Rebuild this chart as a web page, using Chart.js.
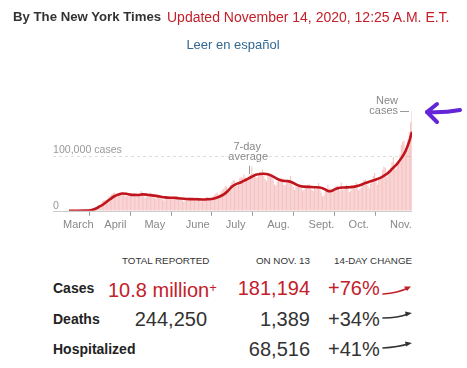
<!DOCTYPE html>
<html>
<head>
<meta charset="utf-8">
<script src="https://cdn.jsdelivr.net/npm/chart.js@4"></script>
<style>
  body { margin: 0; background: #fff; font-family: "Liberation Sans", Arial, sans-serif; }
  #page { position: relative; width: 467px; height: 368px; overflow: hidden; }
  .t { position: absolute; white-space: nowrap; line-height: 20px; }
  #chart { position: absolute; left: 0; top: 0; }
  .lbl { font-weight: bold; font-size: 14px; color: #222; left: 53px; }
  .num { font-size: 20px; color: #333; line-height: 24px; }
  .red { color: #c3202a; }
  .hd { font-size: 9.8px; color: #333; top: 251px; }
</style>
</head>
<body>
<div id="page">
  <canvas id="chart" width="467" height="245"></canvas>

  <div class="t" style="left:13px;top:7px;font-weight:bold;font-size:13.2px;color:#333">By The New York Times</div>
  <div class="t red" style="left:167px;top:7px;font-size:14px">Updated November 14, 2020, 12:25 A.M. E.T.</div>
  <div class="t" style="left:0;width:466px;text-align:center;top:35px;font-size:13px;color:#326891">Leer en español</div>

  <div class="t hd" style="left:122px">TOTAL REPORTED</div>
  <div class="t hd" style="right:157px">ON NOV. 13</div>
  <div class="t hd" style="left:334px">14-DAY CHANGE</div>

  <div class="t lbl" style="top:278px">Cases</div>
  <div class="t num red" style="left:108px;top:276px">10.8 million<span style="font-size:13px;vertical-align:5px">+</span></div>
  <div class="t num red" style="right:157px;top:276px">181,194</div>
  <div class="t num red" style="left:328px;top:276px">+76%</div>

  <div class="t lbl" style="top:309px">Deaths</div>
  <div class="t num" style="right:260px;top:307px">244,250</div>
  <div class="t num" style="right:157px;top:307px">1,389</div>
  <div class="t num" style="left:328px;top:307px">+34%</div>

  <div class="t lbl" style="top:339px">Hospitalized</div>
  <div class="t num" style="right:157px;top:337px">68,516</div>
  <div class="t num" style="left:328px;top:337px">+41%</div>

  <svg width="467" height="368" style="position:absolute;left:0;top:0;pointer-events:none">
    <g fill="none" stroke-width="1.6" stroke-linecap="round">
      <path d="M383 294 Q398 293 408 288" stroke="#c3202a"/>
      <path d="M383 318 Q398 318 408 314" stroke="#333"/>
      <path d="M383 348 Q398 347 408 344" stroke="#333"/>
    </g>
    <path d="M411 286.5 L404 286.5 L407 291 Z" fill="#c3202a"/>
    <path d="M412 313 L405 311.5 L406 316.5 Z" fill="#333"/>
    <path d="M412 343 L405 341.5 L406 346.5 Z" fill="#333"/>
    <g fill="none" stroke="#6424d8" stroke-width="4" stroke-linecap="round" stroke-linejoin="round">
      <path d="M427 112 Q443 113 460 110"/>
      <path d="M437 104 L427 112 L437 122"/>
    </g>
  </svg>
</div>

<script>
// x values are days since March 1, 2020
const monthStarts = [0, 31, 61, 92, 122, 153, 184, 214, 245];
const monthLabels = ['March', 'April', 'May', 'June', 'July', 'Aug.', 'Sept.', 'Oct.', 'Nov.'];

// daily new cases, one array per month
const casesMar = [10, 20, 25, 30, 60, 70, 110, 100, 180, 300,
  420, 520, 700, 740, 1000, 1400, 1900, 2900, 4700, 5900,
  7000, 8200, 10800, 11200, 13400, 17700, 18900, 19600, 19700, 22000, 26300];
const casesApr = [26900, 30100, 32600, 33300, 25700, 29200, 31000, 31900, 33500, 34400,
  30600, 28100, 26500, 27100, 30100, 30500, 31100, 29000, 26500, 28400,
  27600, 28500, 31800, 36000, 33000, 26500, 23800, 25600, 27500, 30300];
const casesMay = [33100, 29000, 25700, 23500, 22300, 24900, 28000, 27200, 25800, 20900,
  18900, 22500, 20900, 26500, 25000, 25100, 21700, 21800, 20500, 22000,
  26100, 24100, 21500, 20100, 19400, 16700, 19300, 21800, 23000, 24300, 20800];
const casesJun = [21400, 20400, 20600, 21600, 24500, 22700, 18300, 17600, 18000, 20800,
  22800, 24600, 25700, 20400, 19300, 23100, 26200, 28700, 31400, 33200,
  27800, 30500, 35600, 38300, 40000, 45400, 43600, 41000, 39800, 47100];
const casesJul = [51700, 55600, 55100, 45800, 45100, 47800, 59700, 62100, 59700, 66700,
  61700, 59000, 60700, 64100, 66400, 80600, 68200, 64900, 61200, 60800,
  65200, 71100, 70000, 75200, 64000, 58000, 53700, 65700, 68700, 66300, 67700];
const casesAug = [57000, 47900, 46600, 53000, 54300, 57800, 60200, 53300, 47100, 47500,
  52700, 55000, 50700, 63300, 51000, 43600, 37800, 44600, 45300, 46300,
  47300, 43700, 36300, 38000, 40900, 45800, 47900, 48100, 45600, 37800, 36000];
const casesSep = [42000, 39000, 44000, 51000, 42000, 33000, 26000, 28000, 35000, 38000,
  47500, 40500, 33400, 34300, 37200, 40300, 44600, 46200, 42400, 36600,
  51700, 39000, 39100, 44500, 47600, 44800, 34300, 36200, 42800, 43000];
const casesOct = [45200, 52000, 49200, 36800, 40000, 42500, 51000, 56200, 57400, 49700,
  46200, 41300, 49900, 57600, 63300, 68800, 55500, 47500, 61400, 59400,
  62800, 74300, 80800, 78600, 61200, 67600, 73000, 79000, 88500, 98200, 80900];
const casesNov = [75100, 86400, 91500, 103000, 120000, 125900, 127500, 105000, 117800, 130000,
  142900, 161500, 181194];

// 7-day average
const avgDays = [0, 12, 16, 19, 22, 25, 28, 31, 34, 37, 40, 43, 46, 49, 52, 55, 58, 61, 64, 68,
  72, 76, 80, 84, 88, 92, 96, 100, 104, 108, 112, 116, 119, 122, 126, 129, 133, 137, 140, 143,
  146, 149, 152, 155, 158, 161, 164, 167, 170, 173, 176, 180, 184, 188, 191, 193, 195, 197, 199, 202,
  206, 210, 214, 218, 222, 226, 230, 234, 238, 241, 243, 246, 249, 252, 255, 257];
const avgValues = [0, 300, 1000, 2800, 6500, 10500, 16000, 21500, 26500, 29500, 31500, 31000, 29500, 29000, 28800, 30000, 29500, 28500, 27700, 26000,
  24500, 23800, 23500, 22300, 21500, 21300, 21000, 20500, 21000, 22000, 25000, 30000, 36000, 44000, 49500, 52000, 57000, 62000, 65500, 67000,
  67500, 66500, 63500, 59500, 56000, 54500, 54000, 52000, 48000, 45000, 44000, 43500, 43000, 42500, 40000, 37500, 35500, 36500, 39000, 41500,
  42500, 43000, 44000, 46500, 50500, 54000, 57000, 61000, 67000, 73500, 78500, 86000, 96000, 108000, 127000, 144000];

const dailyCases = [].concat(casesMar, casesApr, casesMay, casesJun, casesJul, casesAug, casesSep, casesOct, casesNov);
const barData = dailyCases.map((v, i) => ({ x: i, y: v }));
const lineData = avgDays.map((d, i) => ({ x: d, y: avgValues[i] }));

const FONT = '"Liberation Sans", Arial, sans-serif';

// gridlines, labels and notes drawn on top of the scales
const notesPlugin = {
    id: 'notes',
    beforeDatasetsDraw(chart) {
        const ctx = chart.ctx;
        const xs = chart.scales.x, ys = chart.scales.y;
        const left = 53, right = xs.getPixelForValue(257);
        const y0 = Math.round(ys.getPixelForValue(0)) + 0.5;
        const y100 = Math.round(ys.getPixelForValue(100000)) + 0.5;
        ctx.save();
        ctx.strokeStyle = '#ddd';
        ctx.lineWidth = 1;
        ctx.setLineDash([3, 3]);
        ctx.beginPath(); ctx.moveTo(left, y100); ctx.lineTo(right, y100); ctx.stroke();
        ctx.setLineDash([]);
        ctx.strokeStyle = '#ccc';
        ctx.beginPath(); ctx.moveTo(left, y0); ctx.lineTo(right, y0); ctx.stroke();
        ctx.fillStyle = '#999';
        ctx.font = '10.6px ' + FONT;
        ctx.textBaseline = 'alphabetic';
        ctx.fillText('100,000 cases', left, y100 - 4);
        ctx.fillText('0', left, y0 - 3);
        ctx.restore();
    },
    afterDatasetsDraw(chart) {
        const ctx = chart.ctx;
        const xs = chart.scales.x, ys = chart.scales.y;
        ctx.save();
        ctx.font = '11px ' + FONT;
        ctx.textAlign = 'center';
        ctx.textBaseline = 'middle';
        // 7-day average note
        const ax = xs.getPixelForValue(135);
        ctx.fillStyle = '#fff';
        ctx.fillRect(ax - 19, ys.getPixelForValue(100000) - 4, 38, 8);
        ctx.fillStyle = '#888';
        ctx.fillText('7-day', ax - 2, ys.getPixelForValue(117000));
        ctx.fillText('average', ax - 1, ys.getPixelForValue(97500));
        ctx.strokeStyle = '#999';
        ctx.lineWidth = 1;
        ctx.beginPath();
        ctx.moveTo(Math.round(ax) + 0.5, ys.getPixelForValue(82000));
        ctx.lineTo(Math.round(ax) + 0.5, ys.getPixelForValue(67000));
        ctx.stroke();
        // new cases note
        const nx = xs.getPixelForValue(257);
        const ny = ys.getPixelForValue(181194);
        ctx.textAlign = 'right';
        ctx.fillText('New', nx - 14, ny - 10);
        ctx.fillText('cases', nx - 14, ny);
        ctx.beginPath();
        ctx.moveTo(nx - 12, Math.round(ny) + 0.5);
        ctx.lineTo(nx - 3, Math.round(ny) + 0.5);
        ctx.stroke();
        ctx.restore();
    }
};

const chartCanvas = document.getElementById('chart');
if (chartCanvas) {
    new Chart(chartCanvas.getContext('2d'), {
        type: 'bar',
        data: {
            datasets: [
                {
                    type: 'line',
                    label: '7-day average',
                    data: lineData,
                    borderColor: '#c0151d',
                    borderWidth: 2.6,
                    pointRadius: 0,
                    tension: 0.4,
                    cubicInterpolationMode: 'monotone',
                    order: 0
                },
                {
                    label: 'New cases',
                    data: barData,
                    backgroundColor: 'rgba(236, 120, 120, 0.45)',
                    barPercentage: 0.8,
                    categoryPercentage: 1,
                    order: 1
                }
            ]
        },
        options: {
            responsive: false,
            animation: false,
            layout: { padding: { left: 69, right: 55, top: 101, bottom: 10 } },
            plugins: { legend: { display: false }, tooltip: { enabled: false } },
            scales: {
                x: {
                    type: 'linear',
                    min: 0,
                    max: 257,
                    offset: false,
                    afterBuildTicks: scale => {
                        scale.ticks = monthStarts.map(v => ({ value: v }));
                    },
                    ticks: {
                        callback: (value, index) => monthLabels[index],
                        autoSkip: false,
                        maxRotation: 0,
                        align: 'start',
                        labelOffset: -6,
                        padding: 3,
                        color: '#888',
                        font: { size: 11, family: FONT }
                    },
                    grid: { drawOnChartArea: false, drawTicks: true, tickLength: 5, color: '#999' },
                    border: { display: false }
                },
                y: {
                    display: false,
                    min: 0,
                    max: 200000
                }
            }
        },
        plugins: [notesPlugin]
    });
} else {
    console.error('Canvas element not found');
}
</script>
</body>
</html>
